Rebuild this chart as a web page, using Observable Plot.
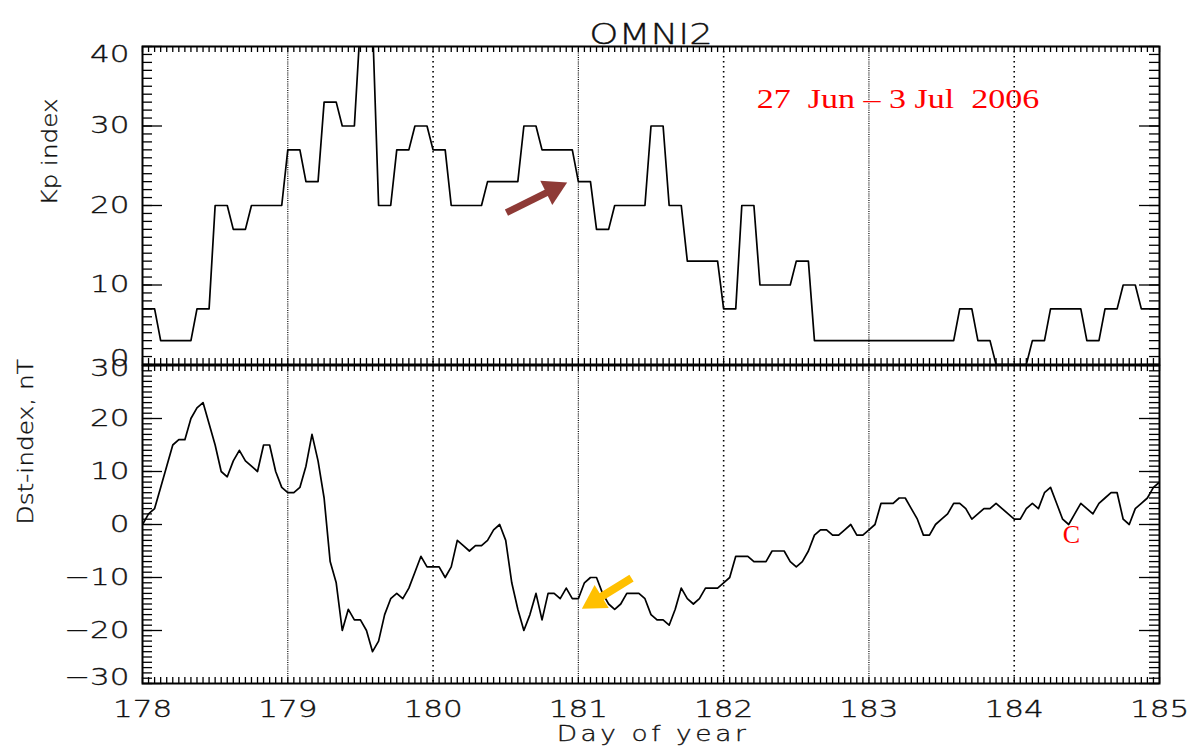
<!DOCTYPE html>
<html>
<head>
<meta charset="utf-8">
<script src="https://cdn.jsdelivr.net/npm/d3@7"></script>
<script src="https://cdn.jsdelivr.net/npm/@observablehq/plot@0.6"></script>
<style>
  body { margin: 0; background: #fff; }
  #wrap { position: relative; width: 1197px; height: 751px; overflow: hidden; }
  #wrap svg { position: absolute; left: 0; top: 0; }
</style>
</head>
<body>
<div id="wrap"></div>
<script>
// ---------------- data ----------------
const startDay = 178;
const endDay = 185;
// Kp index (x10), 3-hourly values, 8 per day, days 178..184
const kp3h = [
  7, 3, 3, 7, 20, 17, 20, 20,      // 178
  27, 23, 33, 30, 43, 20, 27, 30,  // 179
  27, 20, 20, 23, 23, 30, 27, 27,  // 180
  23, 17, 20, 20, 30, 20, 13, 13,  // 181
  7, 20, 10, 10, 13, 3, 3, 3,      // 182
  3, 3, 3, 3, 3, 7, 3, 0,          // 183
  0, 3, 7, 7, 3, 7, 10, 7          // 184
];
// Dst index (nT), hourly values, days 178..184 plus hour 0 of day 185
const dstHourly = [
  0, 2, 3, 7, 11, 15, 16, 16, 20, 22, 23, 19, 15, 10, 9, 12, 14, 12, 11, 10, 15, 15, 10, 7,              // 178
  6, 6, 7, 11, 17, 12, 5, -7, -11, -20, -16, -18, -18, -20, -24, -22, -17, -14, -13, -14, -12, -9, -6, -8, // 179
  -8, -8, -10, -8, -3, -4, -5, -4, -4, -3, -1, 0, -3, -11, -16, -20, -17, -13, -18, -13, -13, -14, -12, -14, // 180
  -14, -11, -10, -10, -13, -15, -16, -15, -13, -13, -13, -14, -17, -18, -18, -19, -16, -12, -14, -15, -14, -12, -12, -12, // 181
  -11, -10, -6, -6, -6, -7, -7, -7, -5, -5, -5, -7, -8, -7, -5, -2, -1, -1, -2, -2, -1, 0, -2, -2,      // 182
  -1, 0, 4, 4, 4, 5, 5, 3, 1, -2, -2, 0, 1, 2, 4, 4, 3, 1, 2, 3, 3, 4, 3, 2,                            // 183
  1, 1, 3, 4, 3, 6, 7, 4, 1, 0, 2, 4, 3, 2, 4, 5, 6, 6, 1, 0, 3, 4, 5, 7,                               // 184
  8                                                                                                      // 185 h0
];
const dayTicks = [178, 179, 180, 181, 182, 183, 184, 185];
const denseGridDays = [179, 181, 183];
const sparseGridDays = [180, 182, 184];
const kpTicks = [0, 10, 20, 30, 40];
const dstTicks = [-30, -20, -10, 0, 10, 20, 30];
const titleText = "OMNI2";
const kpLabel = "Kp index";
const dstLabel = "Dst-index, nT";
const xLabel = "Day of year";
const dateNote = { text: "27  Jun \u2013 3 Jul  2006", day: 183.2, kp: 33.4 };
const cNote = { text: "C", day: 184.394, dst: -2.0 };
const kpArrow = { x1: 180.505, y1: 19.1, x2: 180.923, y2: 22.9 };
const dstArrow = { x1: 181.366, y1: -10.1, x2: 181.024, y2: -15.9 };

// ---------------- layout ----------------
const W = 1197, H = 751;
const mL = 142, mR = 38;
const topPanel = { top: 46, bottom: 364 };
const botPanel = { top: 365, bottom: 683 };
const plotW = W - mL - mR;
const tickFont = "DejaVu Sans";
const ink = "#111";

// hourly Kp series (each 3-hour value holds for its 3 hours)
const kpData = kp3h.flatMap((v, i) => [0, 1, 2].map(k => ({ day: startDay + (3 * i + k) / 24, kp: v })));
kpData.push({ day: endDay, kp: kp3h[kp3h.length - 1] });
const dstData = dstHourly.map((v, h) => ({ day: startDay + h / 24, dst: v }));

const hourTicks = d3.range(0, 24 * (endDay - startDay) + 1).map(h => startDay + h / 24);
const kpMinor = d3.range(0, 41, 1);
const dstMinor = d3.range(-30, 31, 1);

// mirrors of the plot scales, used only to orient the arrow heads
const xPx = d3.scaleLinear([startDay, endDay], [mL, W - mR]);
const yTopPx = d3.scaleLinear([0, 40], [topPanel.bottom, topPanel.top]);
const yBotPx = d3.scaleLinear([-30, 30], [botPanel.bottom, botPanel.top]);

function arrowParts(a, yPx, r) {
  const p1 = [xPx(a.x1), yPx(a.y1)], p2 = [xPx(a.x2), yPx(a.y2)];
  const dx = p2[0] - p1[0], dy = p2[1] - p1[1];
  const len = Math.hypot(dx, dy);
  const tipDist = 2 * Math.sqrt((r * r * Math.PI) / (3 * Math.sqrt(3)));
  const cx = p2[0] - dx / len * tipDist, cy = p2[1] - dy / len * tipDist;
  const head = { x: xPx.invert(cx), y: yPx.invert(cy), rot: Math.atan2(dy, dx) * 180 / Math.PI + 90 };
  const shaft = { x1: a.x1, y1: a.y1, x2: head.x, y2: head.y };
  return { head, shaft };
}

const common = {
  width: W, height: H, marginLeft: mL, marginRight: mR,
  style: { background: "transparent", fontFamily: tickFont, overflow: "visible" }
};

// inward ticks on all four sides of a panel
function frameTicks(minorY, majorY, panelH) {
  const s = { stroke: "#000", strokeWidth: 1.3 };
  return [
    Plot.ruleY(majorY, { y: d => d, insetRight: plotW - 20, ...s }),
    Plot.ruleY(minorY, { y: d => d, insetRight: plotW - 10, ...s }),
    Plot.ruleY(majorY, { y: d => d, insetLeft: plotW - 20, ...s }),
    Plot.ruleY(minorY, { y: d => d, insetLeft: plotW - 10, ...s }),
    Plot.ruleX(hourTicks, { x: d => d, insetBottom: panelH - 6, ...s }),
    Plot.ruleX(hourTicks, { x: d => d, insetTop: panelH - 6, ...s })
  ];
}

// y tick labels; like the original, the two end labels are nudged inward
const labelStyle = { fill: ink, fontSize: 23, fontWeight: 200, textStroke: ink, textStrokeWidth: 0.35, label: null };
function yLabels(ticks, topNudge, bottomNudge) {
  const lo = ticks[0], hi = ticks[ticks.length - 1];
  return [
    Plot.axisY(ticks.slice(1, -1), { anchor: "left", tickSize: 0, tickPadding: 13, ...labelStyle }),
    Plot.axisY([hi], { anchor: "left", tickSize: 0, tickPadding: 13, dy: topNudge, ...labelStyle }),
    Plot.axisY([lo], { anchor: "left", tickSize: 0, tickPadding: 13, dy: bottomNudge, ...labelStyle })
  ];
}
const titleStyle = { fill: ink, fontWeight: 200, stroke: ink, strokeWidth: 0.35 };

// ---------------- top panel: Kp ----------------
const kpA = arrowParts(kpArrow, yTopPx, 10);
const topPlot = Plot.plot({
  ...common,
  marginTop: topPanel.top, marginBottom: H - topPanel.bottom,
  x: { domain: [startDay, endDay], axis: null },
  y: { domain: [0, 40] },
  marks: [
    Plot.ruleX(denseGridDays, { stroke: "#000", strokeWidth: 1.2, strokeDasharray: "1,1.2" }),
    Plot.ruleX(sparseGridDays, { stroke: "#000", strokeWidth: 1.6, strokeDasharray: "1.6,3.4" }),
    Plot.line(kpData, { x: "day", y: "kp", stroke: "#000", strokeWidth: 1.7, clip: true }),
    ...frameTicks(kpMinor, kpTicks, topPanel.bottom - topPanel.top),
    ...yLabels(kpTicks, 8, -6),
    Plot.frame({ stroke: "#000", strokeWidth: 2 }),
    Plot.text([titleText], { frameAnchor: "top", text: d => d, dy: -23, fontSize: 29, ...titleStyle }),
    Plot.text([kpLabel], { frameAnchor: "left", text: d => d, rotate: -90, dx: -93, fontSize: 22, ...titleStyle }),
    Plot.text([dateNote], { x: "day", y: "kp", text: "text", fill: "red", fontFamily: "Liberation Serif", fontSize: 27 }),
    Plot.link([kpA.shaft], { x1: "x1", y1: "y1", x2: "x2", y2: "y2", stroke: "#8E3A36", strokeWidth: 7, strokeLinecap: "butt" }),
    Plot.dot([kpA.head], { x: "x", y: "y", symbol: "triangle", r: 10, rotate: "rot", fill: "#8E3A36", stroke: "none" })
  ]
});

// ---------------- bottom panel: Dst ----------------
const dstA = arrowParts(dstArrow, yBotPx, 10);
const botPlot = Plot.plot({
  ...common,
  marginTop: botPanel.top, marginBottom: H - botPanel.bottom,
  x: { domain: [startDay, endDay] },
  y: { domain: [-30, 30] },
  marks: [
    Plot.ruleX(denseGridDays, { stroke: "#000", strokeWidth: 1.2, strokeDasharray: "1,1.2" }),
    Plot.ruleX(sparseGridDays, { stroke: "#000", strokeWidth: 1.6, strokeDasharray: "1.6,3.4" }),
    Plot.line(dstData, { x: "day", y: "dst", stroke: "#000", strokeWidth: 1.7, clip: true }),
    ...frameTicks(dstMinor, dstTicks, botPanel.bottom - botPanel.top),
    ...yLabels(dstTicks, 3, -6),
    Plot.axisX(dayTicks, { anchor: "bottom", tickSize: 0, tickPadding: 17, tickFormat: d3.format("d"), ...labelStyle }),
    Plot.frame({ stroke: "#000", strokeWidth: 2 }),
    Plot.text([dstLabel], { frameAnchor: "left", text: d => d, rotate: -90, dx: -117, fontSize: 22, ...titleStyle }),
    Plot.text([xLabel], { frameAnchor: "bottom", text: d => d, dy: 57, dx: 2, fontSize: 22, ...titleStyle }),
    Plot.text([cNote], { x: "day", y: "dst", text: "text", fill: "red", fontFamily: "Liberation Serif", fontSize: 26 }),
    Plot.link([dstA.shaft], { x1: "x1", y1: "y1", x2: "x2", y2: "y2", stroke: "#FFC000", strokeWidth: 8, strokeLinecap: "butt" }),
    Plot.dot([dstA.head], { x: "x", y: "y", symbol: "triangle", r: 10, rotate: "rot", fill: "#FFC000", stroke: "none" })
  ]
});

// widen glyphs horizontally to mimic the wide vector font of the original
// (only the horizontal offset is folded into the transform; vertical em offsets stay as they are)
function stretchNodes(nodes, sx, ls) {
  nodes.each(function () {
    const xa = this.getAttribute("x");
    let shift = "";
    if (xa !== null && /^-?[\d.]+$/.test(xa)) { shift = ` translate(${xa},0)`; this.removeAttribute("x"); }
    const t = this.getAttribute("transform") || "";
    this.setAttribute("transform", `${t}${shift} scale(${sx},1)`);
    if (ls) this.style.letterSpacing = ls + "px";
  });
}
function stretchText(svg, str, sx, ls) {
  stretchNodes(d3.select(svg).selectAll("text").filter(function () { return this.textContent === str; }), sx, ls);
}
for (const svg of [topPlot, botPlot]) {
  stretchNodes(d3.select(svg).selectAll('g[aria-label="y-axis tick label"] text, g[aria-label="x-axis tick label"] text'), 1.35, 0);
}
stretchText(topPlot, titleText, 1.28, 0);
stretchText(topPlot, kpLabel, 1.12, 0);
stretchText(topPlot, dateNote.text, 1.26, 0);
stretchText(botPlot, dstLabel, 1.13, 0);
stretchText(botPlot, xLabel, 1.2, 3);

const wrap = document.getElementById("wrap");
wrap.appendChild(botPlot);
wrap.appendChild(topPlot);
</script>
</body>
</html>
